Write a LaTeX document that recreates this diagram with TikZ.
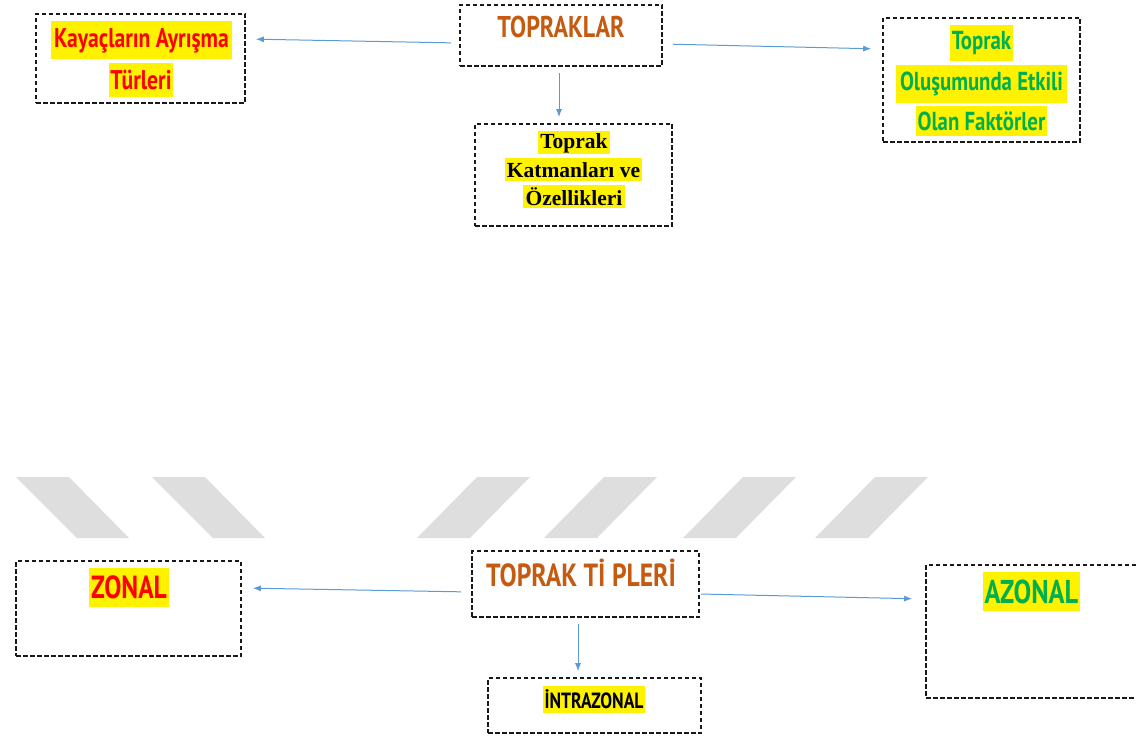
\documentclass[tikz,border=0pt]{standalone}
\usepackage{xcolor}
\usepackage{fontspec}
\usepackage{tikz}
\usetikzlibrary{calc}
\usetikzlibrary{arrows.meta}
\usetikzlibrary{positioning}
\newfontfamily\elyazi[FakeStretch=0.8]{PT Sans}
\newfontfamily\kalin{Liberation Serif}
\definecolor{okmavi}{RGB}{91,155,213}
\definecolor{kiremit}{RGB}{197,90,17}
\definecolor{yesil}{RGB}{0,176,80}
\definecolor{serit}{RGB}{222,222,222}
\tikzset{>=latex}
\tikzstyle{kutu} = [rectangle, draw=black!90, line width=1.6pt, dash pattern=on 4.5pt off 2.5pt, inner sep=0pt]
\tikzstyle{ok} = [-{Latex[length=8pt,width=6pt]}, draw=okmavi, line width=1pt]
\tikzstyle{vurgu} = [fill=yellow, inner xsep=1.5pt, inner ysep=0pt]
\tikzset{yazi/.style={font=\elyazi\bfseries\fontsize{#1}{#1}\selectfont}}
\tikzset{kalinyazi/.style={font=\kalin\bfseries\fontsize{21.5}{24}\selectfont}}

\begin{document}
\begin{tikzpicture}[x=1pt, y=-1pt]
\path [use as bounding box, clip] (0,0) rectangle (1136,738);
% gray stripes
\foreach \x in {16,152}
  \fill [serit] (\x,477) -- (\x+53,477) -- (\x+113,538) -- (\x+61,538) -- cycle;
\foreach \x in {477,604,743,875}
  \fill [serit] (\x,477) -- (\x+53,477) -- (\x-7,538) -- (\x-60,538) -- cycle;

% upper part
\node [kutu, minimum width=202pt, minimum height=61pt] (topraklar) at (561,35.5) {};
\node [yazi=30, text=kiremit] (topraklarT) at (561,27) {TOPRAKLAR};
\node [kutu, minimum width=209pt, minimum height=89pt] (kaya) at (140.5,58.5) {};
\node [vurgu, yazi=27, minimum width=181pt, minimum height=38pt, text=red] (kaya1) at (141.5,40.5) {Kayaçların Ayrışma};
\node [vurgu, yazi=27, minimum width=60pt, minimum height=34pt, text=red] (kaya2) at (141,80) {Türleri};
\node [kutu, minimum width=197pt, minimum height=102pt] (katman) at (573.5,175) {};
\node [vurgu, kalinyazi, minimum width=72pt, minimum height=23pt] (katman1) at (574,143) {Toprak};
\node [vurgu, kalinyazi, minimum width=137pt, minimum height=23pt] (katman2) at (573.5,170) {Katmanları ve};
\node [vurgu, kalinyazi, minimum width=102pt, minimum height=23pt] (katman3) at (574,197) {Özellikleri};
\node [kutu, minimum width=197pt, minimum height=124pt] (etken) at (981.5,80) {};
\node [vurgu, yazi=26, minimum width=59pt, minimum height=36pt, text=yesil] (etken1) at (981.5,43) {Toprak};
\node [vurgu, yazi=26, minimum width=171pt, minimum height=38pt, text=yesil] (etken2) at (981.5,84) {Oluşumunda Etkili};
\node [vurgu, yazi=26, minimum width=131pt, minimum height=30pt, text=yesil] (etken3) at (981.5,121.5) {Olan Faktörler};

\draw [ok, shorten <=8pt, shorten >=10pt] ([yshift=-7.5pt]topraklar.west) to ([yshift=19.5pt]kaya.east);
\draw [ok, shorten <=10pt, shorten >=11pt] ([yshift=-8.5pt]topraklar.east) to ([yshift=31pt]etken.west);
\draw [ok, shorten <=6pt, shorten >=6pt] ([xshift=-2pt]topraklar.south) to ([xshift=-14.5pt]katman.north);

% lower part
\node [kutu, minimum width=227pt, minimum height=66pt] (tipler) at (585.5,584) {};
\node [yazi=32, text=kiremit] (tiplerT) at (581,573) {TOPRAK Tİ PLERİ};
\node [kutu, minimum width=225pt, minimum height=95pt] (zonal) at (128.5,608.5) {};
\node [vurgu, yazi=32, minimum width=80pt, minimum height=39pt, text=red] (zonalT) at (129,587.5) {ZONAL};
\node [kutu, minimum width=224pt, minimum height=133pt] (azonal) at (1038,631.5) {};
\node [vurgu, yazi=33, minimum width=97pt, minimum height=39pt, text=yesil] (azonalT) at (1031.5,591.5) {AZONAL};
\node [kutu, minimum width=213pt, minimum height=55pt] (intra) at (594.5,705.5) {};
\node [vurgu, yazi=22, minimum width=102pt, minimum height=27pt] (intraT) at (594,699.5) {İNTRAZONAL};

\draw [ok, shorten <=10pt, shorten >=11pt] ([yshift=-8pt]tipler.west) to ([yshift=20.5pt]zonal.east);
\draw [ok, shorten <=1pt, shorten >=13pt] ([yshift=-10pt]tipler.east) to ([yshift=32.5pt]azonal.west);
\draw [ok, shorten <=6pt, shorten >=6pt] ([xshift=-7.5pt]tipler.south) to ([xshift=-16.5pt]intra.north);
\end{tikzpicture}
\end{document}
